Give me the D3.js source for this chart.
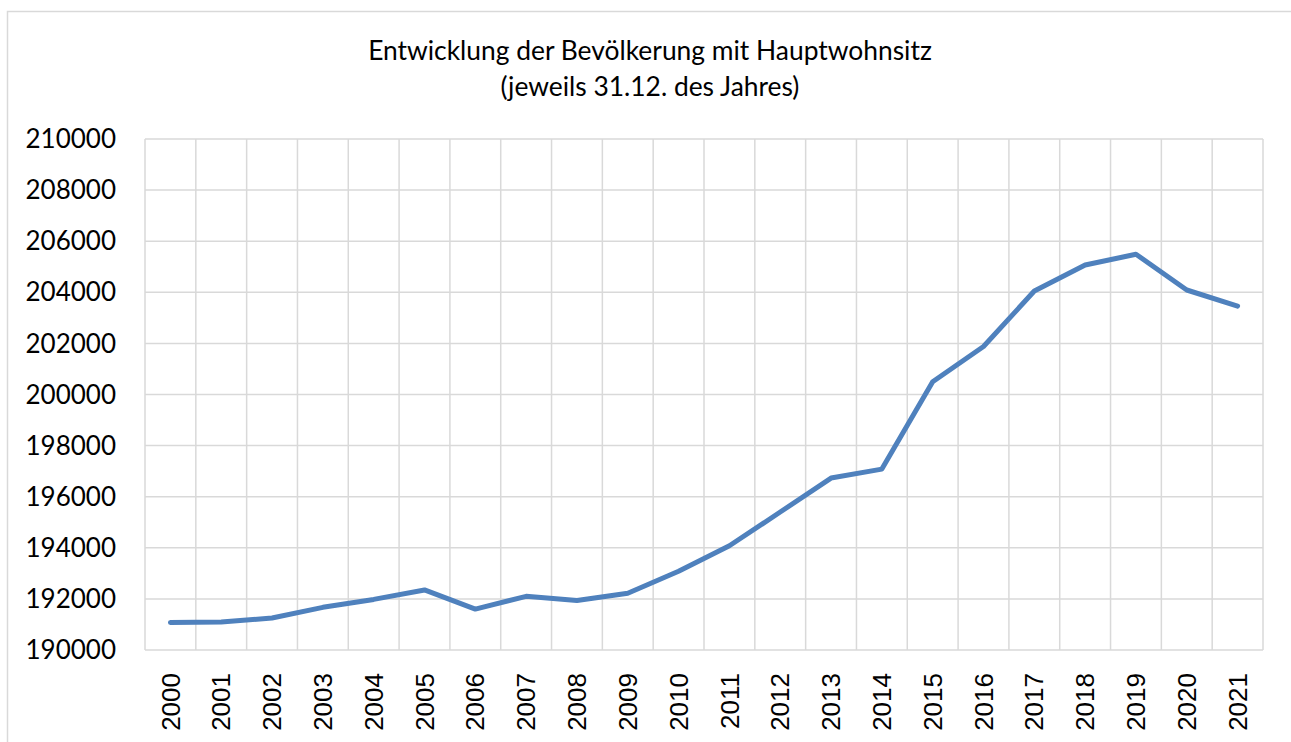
<!DOCTYPE html>
<html>
<head>
<meta charset="utf-8">
<script src="https://cdn.jsdelivr.net/npm/d3@7"></script>
<style>
  body { margin: 0; background: #fff; }
  svg { display: block; }
</style>
</head>
<body>
<div id="chart"></div>
<script>
// data
const years = ["2000","2001","2002","2003","2004","2005","2006","2007","2008","2009","2010",
  "2011","2012","2013","2014","2015","2016","2017","2018","2019","2020","2021"]
const population = [191080, 191100, 191250, 191670, 191980, 192350, 191600, 192100, 191940, 192220, 193080,
  194080, 195400, 196730, 197080, 200500, 201880, 204050, 205070, 205490, 204090, 203460]
const yTicks = [190000, 192000, 194000, 196000, 198000, 200000, 202000, 204000, 206000, 208000, 210000]
const titleLines = ["Entwicklung der Bevölkerung mit Hauptwohnsitz", "(jeweils 31.12. des Jahres)"]

const w = 1291
const h = 742
const m = {left: 145, right: 1263, top: 139, bottom: 650}

const svg = d3.select("#chart")
  .append("svg")
  .attr("width", w)
  .attr("height", h)

// outer frame (only left + top visible)
svg.append("path")
  .attr("d", `M7.5,${h} V11.5 H${w}`)
  .attr("fill", "none")
  .attr("stroke", "#d9d9d9")
  .attr("stroke-width", 1.5)

const x = d3.scaleBand()
  .domain(years)
  .range([m.left, m.right])

const y = d3.scaleLinear()
  .domain([190000, 210000])
  .range([m.bottom, m.top])

// grid
const grid = svg.append("g")
grid.selectAll(".hgrid")
  .data(yTicks)
  .join("line")
  .attr("x1", m.left)
  .attr("x2", m.right)
  .attr("y1", d => y(d))
  .attr("y2", d => y(d))
  .attr("stroke", "#d9d9d9")
  .attr("stroke-width", 1.5)

const bounds = years.map(d => x(d)).concat([m.right])
grid.selectAll(".vgrid")
  .data(bounds)
  .join("line")
  .attr("x1", d => d)
  .attr("x2", d => d)
  .attr("y1", m.top)
  .attr("y2", m.bottom)
  .attr("stroke", "#d9d9d9")
  .attr("stroke-width", 1.5)

// y labels
svg.append("g")
  .selectAll("text")
  .data(yTicks)
  .join("text")
  .attr("x", 116)
  .attr("y", d => y(d))
  .attr("dy", "0.35em")
  .attr("text-anchor", "end")
  .attr("font-family", "Lato, sans-serif")
  .attr("font-size", 26)
  .attr("fill", "#000")
  .text(d => d)

// x labels, rotated
svg.append("g")
  .selectAll("text")
  .data(years)
  .join("text")
  .attr("transform", d => `translate(${x(d) + x.bandwidth() / 2},673) rotate(-90)`)
  .attr("dy", "0.35em")
  .attr("text-anchor", "end")
  .attr("font-family", "'Liberation Sans', Arial, sans-serif")
  .attr("font-size", 26)
  .attr("fill", "#000")
  .text(d => d)

// line
const line = d3.line()
  .x((d, i) => x(years[i]) + x.bandwidth() / 2)
  .y(d => y(d))

svg.append("path")
  .datum(population)
  .attr("d", line)
  .attr("fill", "none")
  .attr("stroke", "#4f81bd")
  .attr("stroke-width", 5)
  .attr("stroke-linejoin", "round")
  .attr("stroke-linecap", "round")

// title
const title = svg.append("g")
  .selectAll("text")
  .data(titleLines)
  .join("text")
  .attr("x", 650)
  .attr("y", (d, i) => 60 + i * 36)
  .attr("text-anchor", "middle")
  .attr("font-family", "Lato, sans-serif")
  .attr("font-size", 24)
  .attr("fill", "#000")
  .text(d => d)

// scale title so the first line is ~564px wide like the original
const tw = title.node().getComputedTextLength()
title.attr("font-size", 24 * 564 / tw)
</script>
</body>
</html>
